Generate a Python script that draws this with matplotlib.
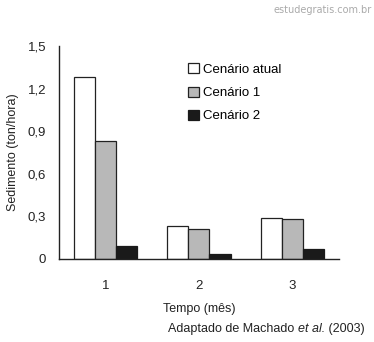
import matplotlib
matplotlib.use("Agg")
import matplotlib.pyplot as plt
import numpy as np

plt.rcParams['font.family'] = ['Liberation Sans', 'DejaVu Sans']

meses = ["1", "2", "3"]
atual = [1.28, 0.23, 0.29]
cenario1 = [0.83, 0.21, 0.28]
cenario2 = [0.09, 0.035, 0.07]
yticks = [0, 0.3, 0.6, 0.9, 1.2, 1.5]
ylabels = ["0", "0,3", "0,6", "0,9", "1,2", "1,5"]

fig = plt.figure(figsize=(3.74, 3.42), dpi=100)
ax = fig.add_axes([0.157, 0.243, 0.75, 0.622])

x = np.arange(1, 4)
w = 0.225
ax.bar(x - w, atual, w, color="white", edgecolor="#222222", linewidth=0.9, label="Cenário atual")
ax.bar(x, cenario1, w, color="#b8b8b8", edgecolor="#222222", linewidth=0.9, label="Cenário 1")
ax.bar(x + w, cenario2, w, color="#1a1a1a", edgecolor="#1a1a1a", linewidth=0.9, label="Cenário 2")

ax.set_xlim(0.5, 3.5)
ax.set_ylim(0, 1.5)
ax.set_xticks(x)
ax.set_xticklabels(meses)
ax.set_yticks(yticks)
ax.set_yticklabels(ylabels)
ax.tick_params(length=0, labelsize=9.5, colors="#222222", pad=9)
ax.tick_params(axis="x", pad=15)
for s in ["top", "right"]:
    ax.spines[s].set_visible(False)
for s in ["left", "bottom"]:
    ax.spines[s].set_color("#222222")
    ax.spines[s].set_linewidth(1.0)

ax.set_ylabel("Sedimento (ton/hora)", fontsize=9, color="#222222")
ax.yaxis.set_label_coords(-0.14, 0.5)
ax.set_xlabel("Tempo (mês)", fontsize=9, color="#222222", labelpad=8)

leg = ax.legend(loc="upper left", bbox_to_anchor=(0.42, 0.975), frameon=False,
                fontsize=9.5, handlelength=0.8, handleheight=0.8, handletextpad=0.3,
                labelspacing=0.8)

# caption in pieces, with "et al." in italics
fig.canvas.draw()
r = fig.canvas.get_renderer()
parts = [("Adaptado de Machado ", "normal"), ("et al.", "italic"), (" (2003)", "normal")]
xpos = 168
for txt, st in parts:
    t = fig.text(xpos / 374, 1 - 332 / 342, txt, fontsize=9, color="#222222", style=st)
    bb = t.get_window_extent(r)
    xpos = bb.x1

fig.text(0.995, 0.962, "estudegratis.com.br", fontsize=7, color="#aaaaaa", ha="right",
         family="DejaVu Sans")

fig.savefig("out.png", dpi=100)
